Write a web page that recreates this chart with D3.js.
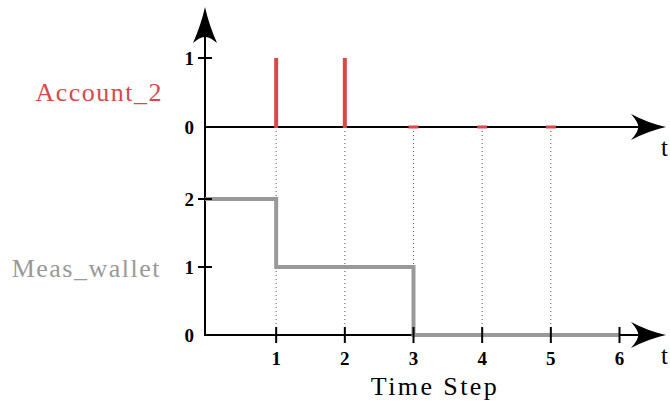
<!DOCTYPE html>
<html><head><meta charset="utf-8">
<script src="https://cdn.jsdelivr.net/npm/d3@7"></script>
<style>body{margin:0;background:#fff}svg{display:block}
text{font-family:"Liberation Serif","DejaVu Serif","Noto Serif","Times New Roman",serif}</style>
</head><body>
<svg id="c" width="670" height="401"></svg>
<script>
const timeSteps = [1, 2, 3, 4, 5, 6];
const account2 = [1, 1, 0, 0, 0];          // at t = 1..5
const accountTicks = [0, 1];
const walletT = [0, 1, 3, 6];              // step start times
const walletV = [2, 1, 0, 0];              // value held from each time
const walletTicks = [0, 1, 2];
const seriesNames = ["Account_2", "Meas_wallet"];
const xLabel = "Time Step";

const svg = d3.select("#c");
const red = "#d9474b", gray = "#999999";

const x = d3.scaleLinear().domain([0, 6]).range([207.5, 619.5]);
const yTop = d3.scaleLinear().domain([0, 1]).range([127, 58]);
const yBot = d3.scaleLinear().domain([0, 2]).range([335, 199]);
const axisX = 205;

// dotted guides
svg.append("g").selectAll("line").data(timeSteps.slice(0, 5)).join("line")
  .attr("x1", d => x(d)).attr("x2", d => x(d))
  .attr("y1", yTop(0)).attr("y2", yBot(0) - 8)
  .attr("stroke", "#555").attr("stroke-width", 1).attr("stroke-dasharray", "1,3");

// axes lines
function arrowRight(xt, yv) {
  return `M${xt},${yv} Q${xt - 18},${yv - 4} ${xt - 35},${yv - 13} Q${xt - 27},${yv - 4} ${xt - 28},${yv} Q${xt - 27},${yv + 4} ${xt - 35},${yv + 13} Q${xt - 18},${yv + 4} ${xt},${yv} Z`;
}
function arrowUp(xv, yt) {
  return `M${xv},${yt} Q${xv - 4},${yt + 18} ${xv - 12},${yt + 36} Q${xv - 4},${yt + 29} ${xv},${yt + 30} Q${xv + 4},${yt + 29} ${xv + 12},${yt + 36} Q${xv + 4},${yt + 18} ${xv},${yt} Z`;
}
svg.append("line").attr("x1", axisX).attr("x2", axisX).attr("y1", 20).attr("y2", yBot(0) + 1)
  .attr("stroke", "#000").attr("stroke-width", 2);
svg.append("path").attr("d", arrowUp(axisX, 7)).attr("fill", "#000");

[yTop(0), yBot(0)].forEach(yv => {
  svg.append("line").attr("x1", axisX - 1).attr("x2", 650).attr("y1", yv).attr("y2", yv)
    .attr("stroke", "#000").attr("stroke-width", 2);
  svg.append("path").attr("d", arrowRight(666, yv)).attr("fill", "#000");
});

// Account_2 bars
svg.append("g").selectAll("rect").data(account2).join("rect")
  .attr("x", (d, i) => x(i + 1) - (d === 0 ? 5 : 2))
  .attr("width", d => d === 0 ? 10 : 4)
  .attr("y", d => d === 0 ? yTop(0) - 1.5 : yTop(d))
  .attr("height", d => d === 0 ? 3 : yTop(0) - yTop(d) + 1)
  .attr("fill", red);

// Meas_wallet step line
const line = d3.line().x(d => Math.max(axisX, x(d[0]) - (d[0] === 0 ? 3 : 0))).y(d => yBot(d[1])).curve(d3.curveStepAfter);
svg.append("path").datum(walletT.map((t, i) => [t, walletV[i]]))
  .attr("d", line).attr("fill", "none").attr("stroke", gray).attr("stroke-width", 4);

// y ticks
function yTicks(scale, ticks) {
  const g = svg.append("g");
  g.selectAll("line").data(ticks.filter(d => d > 0)).join("line")
    .attr("x1", axisX - 7).attr("x2", axisX + 7)
    .attr("y1", d => scale(d)).attr("y2", d => scale(d))
    .attr("stroke", "#000").attr("stroke-width", 2);
  g.selectAll("text").data(ticks).join("text")
    .attr("x", axisX - 11).attr("y", d => scale(d)).attr("dy", "0.36em")
    .attr("text-anchor", "end").attr("font-weight", "bold")
    .attr("font-size", 19).text(d => d);
}
yTicks(yTop, accountTicks);
yTicks(yBot, walletTicks);

// x ticks
const gx = svg.append("g");
gx.selectAll("line").data(timeSteps).join("line")
  .attr("x1", d => x(d)).attr("x2", d => x(d))
  .attr("y1", yBot(0) - 8).attr("y2", yBot(0) + 8)
  .attr("stroke", "#000").attr("stroke-width", 2);
gx.selectAll("text").data(timeSteps).join("text")
  .attr("x", d => x(d)).attr("y", 365)
  .attr("text-anchor", "middle").attr("font-weight", "bold")
  .attr("font-size", 19).text(d => d);

// t labels
[yTop(0), yBot(0)].forEach(yv => {
  svg.append("text").attr("x", 661).attr("y", yv + 29)
    .attr("font-size", 25).text("t");
});

// labels
svg.append("text").attr("x", 435).attr("y", 395).attr("text-anchor", "middle")
  .attr("font-size", 26).attr("letter-spacing", 2.4).text(xLabel);
svg.append("text").attr("x", 163).attr("y", 101).attr("text-anchor", "end")
  .attr("font-size", 26).attr("letter-spacing", 1.5).attr("fill", red).text(seriesNames[0]);
svg.append("text").attr("x", 161).attr("y", 277).attr("text-anchor", "end")
  .attr("font-size", 26).attr("letter-spacing", 1.5).attr("fill", gray).text(seriesNames[1]);
</script>
</body></html>
